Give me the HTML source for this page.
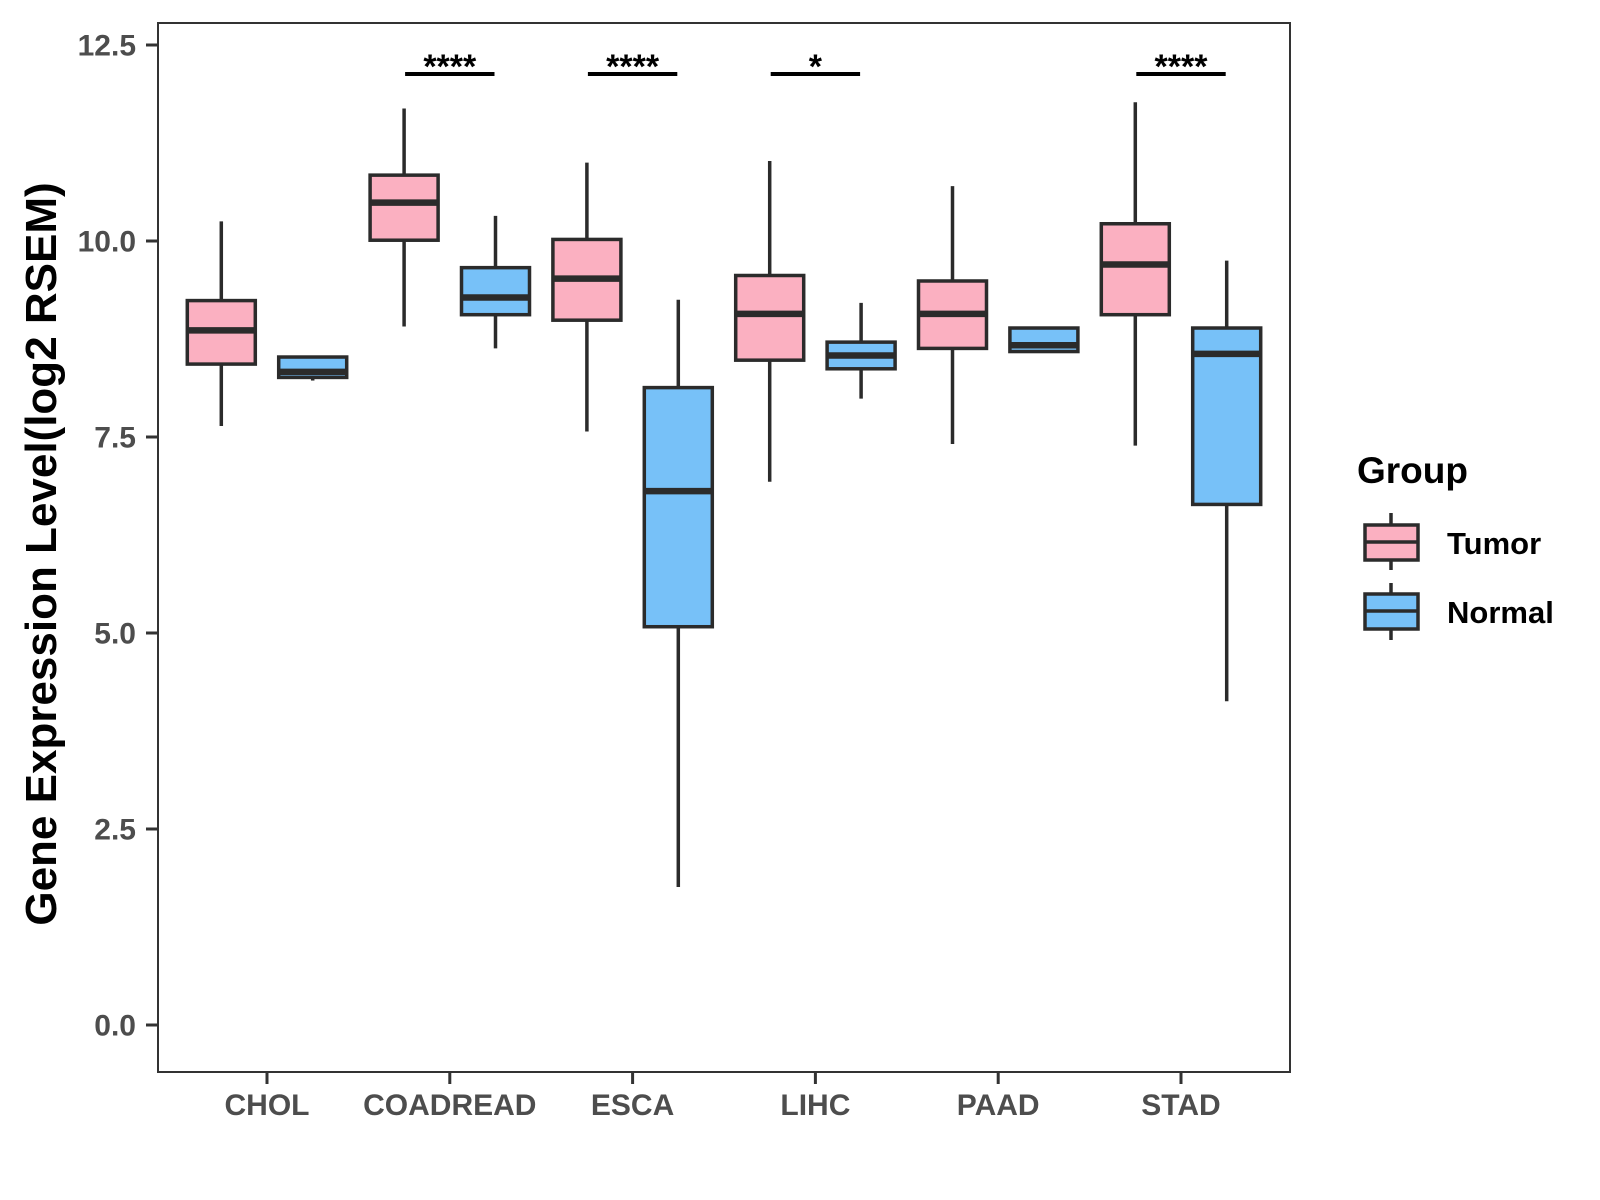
<!DOCTYPE html>
<html><head><meta charset="utf-8"><style>
html,body{margin:0;padding:0;background:#fff;}
svg{display:block;font-family:"Liberation Sans",Arial,sans-serif;}
</style></head><body>
<svg id="chart" width="1600" height="1200" viewBox="0 0 1600 1200" xmlns="http://www.w3.org/2000/svg">
<rect x="0" y="0" width="1600" height="1200" fill="#fff"/>
<g id="marks"></g>
<rect x="158" y="23" width="1132" height="1049" fill="none" stroke="#333" stroke-width="2"/>
<g id="axes"></g>
<text transform="translate(56,554) rotate(-90)" text-anchor="middle" font-size="44" font-weight="bold" fill="#000">Gene Expression Level(log2 RSEM)</text>
<g>
<text x="1357" y="483" font-size="37" font-weight="bold" fill="#000">Group</text>
<g>
<line x1="1391" y1="513" x2="1391" y2="570" stroke="#2b2b2b" stroke-width="3.5"/>
<rect x="1365" y="525" width="53" height="35" fill="#FBB0C1" stroke="#2b2b2b" stroke-width="3.5"/>
<line x1="1365" y1="542" x2="1418" y2="542" stroke="#2b2b2b" stroke-width="3.5"/>
<text x="1447" y="554" font-size="31" font-weight="bold" fill="#000">Tumor</text>
</g>
<g>
<line x1="1391" y1="583" x2="1391" y2="640" stroke="#2b2b2b" stroke-width="3.5"/>
<rect x="1365" y="594" width="53" height="35" fill="#77C1F8" stroke="#2b2b2b" stroke-width="3.5"/>
<line x1="1365" y1="611" x2="1418" y2="611" stroke="#2b2b2b" stroke-width="3.5"/>
<text x="1447" y="623" font-size="31" font-weight="bold" fill="#000">Normal</text>
</g>
</g>
</svg>
<script>
const categories = ["CHOL","COADREAD","ESCA","LIHC","PAAD","STAD"];
// [whiskerLow, q1, median, q3, whiskerHigh]
const tumorStats = [
  [7.64, 8.43, 8.86, 9.24, 10.25],
  [8.91, 10.01, 10.49, 10.84, 11.69],
  [7.57, 8.99, 9.52, 10.02, 11.0],
  [6.93, 8.48, 9.07, 9.56, 11.02],
  [7.41, 8.63, 9.07, 9.49, 10.70],
  [7.39, 9.06, 9.70, 10.22, 11.77]
];
const normalStats = [
  [8.22, 8.26, 8.33, 8.52, 8.53],
  [8.63, 9.06, 9.28, 9.66, 10.32],
  [1.76, 5.08, 6.81, 8.13, 9.25],
  [7.99, 8.37, 8.54, 8.71, 9.21],
  [8.59, 8.59, 8.67, 8.89, 8.90],
  [4.13, 6.64, 8.56, 8.89, 9.75]
];
const sigLabels = ["", "****", "****", "*", "", "****"];
const yTicks = [0, 2.5, 5, 7.5, 10, 12.5];
const yTickLabels = ["0.0","2.5","5.0","7.5","10.0","12.5"];
const sigLevel = 12.13;

const NS = "http://www.w3.org/2000/svg";
function yScale(v){ return 1025 - v * 78.4; }
function xScale(i){ return 267 + i * 182.8; }
function mk(tag, attrs, parent){
  const e = document.createElementNS(NS, tag);
  for (const k in attrs) e.setAttribute(k, attrs[k]);
  parent.appendChild(e);
  return e;
}
const marks = document.getElementById("marks");
const axes = document.getElementById("axes");
const off = 45.7, bw = 68, stroke = "#2b2b2b";

function drawBox(cx, s, fill, name){
  const g = mk("g", {}, marks);
  
  
  mk("line", {x1:cx, x2:cx, y1:yScale(s[4]), y2:yScale(s[0]), stroke:stroke, "stroke-width":3.5}, g);
  const top = yScale(s[3]), bot = yScale(s[1]);
  mk("rect", {x:cx-bw/2, y:top, width:bw, height:Math.max(bot-top,1), fill:fill, stroke:stroke, "stroke-width":3.5}, g);
  mk("line", {x1:cx-bw/2, x2:cx+bw/2, y1:yScale(s[2]), y2:yScale(s[2]), stroke:stroke, "stroke-width":6.5}, g);
}

categories.forEach((c, i) => {
  const cx = xScale(i);
  drawBox(cx - off, tumorStats[i], "#FBB0C1", "box-tumor-" + c.toLowerCase());
  drawBox(cx + off, normalStats[i], "#77C1F8", "box-normal-" + c.toLowerCase());
  if (sigLabels[i]) {
    const g = mk("g", {}, marks);
    
    
    const yb = yScale(sigLevel);
    mk("line", {x1:cx-off+1, x2:cx+off-1, y1:yb, y2:yb, stroke:"#000", "stroke-width":4}, g);
    const t = mk("text", {x:cx, y:yb + 4, "text-anchor":"middle", "font-size":34, "font-weight":"bold", fill:"#000"}, g);
    t.textContent = sigLabels[i];
  }
  const tk = mk("line", {x1:cx, x2:cx, y1:1072, y2:1084, stroke:"#333", "stroke-width":3}, axes);
  
  
  const lb = mk("text", {x:cx, y:1115, "text-anchor":"middle", "font-size":30, "font-weight":"bold", fill:"#4d4d4d"}, axes);
  
  
  lb.textContent = c;
});

yTicks.forEach((v, i) => {
  const y = yScale(v);
  const tk = mk("line", {x1:146, x2:158, y1:y, y2:y, stroke:"#333", "stroke-width":3}, axes);
  
  
  const lb = mk("text", {x:136, y:y + 10.5, "text-anchor":"end", "font-size":30, "font-weight":"bold", fill:"#4d4d4d"}, axes);
  
  
  lb.textContent = yTickLabels[i];
});
</script>
</body></html>
